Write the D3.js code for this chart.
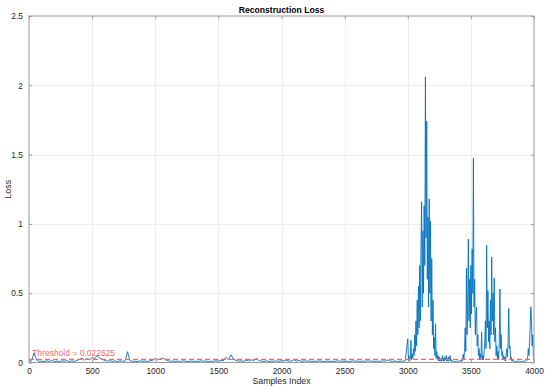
<!DOCTYPE html>
<html>
<head>
<meta charset="utf-8">
<script src="https://cdn.jsdelivr.net/npm/d3@7"></script>
<style>
  html, body { margin: 0; padding: 0; background: #fff; }
  svg { display: block; font-family: "Liberation Sans", Arial, sans-serif; }
</style>
</head>
<body>
<svg id="chart" width="550" height="389"></svg>
<script>
// ---- data ----
const title = "Reconstruction Loss";
const xLabel = "Samples Index";
const yLabel = "Loss";
const xTicks = [0, 500, 1000, 1500, 2000, 2500, 3000, 3500, 4000];
const yTicks = [0, 0.5, 1, 1.5, 2, 2.5];
const threshold = 0.022525;

// normal-operation segment: samples 0..2980, one reading every 20 samples
const baseStart = 0, baseStep = 20;
const baseLoss = [
  0.005,0.012,0.070,0.020,0.008,0.010,0.006,0.012,0.008,0.015,
  0.007,0.010,0.006,0.012,0.009,0.014,0.007,0.011,0.008,0.016,
  0.022,0.030,0.018,0.026,0.020,0.035,0.028,0.050,0.030,0.022,
  0.015,0.010,0.013,0.008,0.011,0.007,0.012,0.009,0.010,0.078,
  0.012,0.008,0.010,0.006,0.012,0.009,0.011,0.007,0.013,0.016,
  0.030,0.018,0.025,0.033,0.020,0.012,0.009,0.011,0.007,0.010,
  0.008,0.012,0.009,0.006,0.011,0.008,0.010,0.007,0.012,0.009,
  0.011,0.006,0.010,0.008,0.013,0.009,0.015,0.012,0.038,0.020,
  0.055,0.025,0.015,0.010,0.012,0.008,0.018,0.010,0.020,0.012,
  0.030,0.015,0.010,0.008,0.012,0.007,0.010,0.009,0.012,0.008,
  0.015,0.010,0.018,0.009,0.012,0.020,0.010,0.015,0.008,0.012,
  0.009,0.011,0.007,0.010,0.008,0.012,0.009,0.006,0.011,0.008,
  0.010,0.007,0.012,0.009,0.011,0.008,0.010,0.006,0.012,0.009,
  0.011,0.007,0.010,0.008,0.013,0.009,0.011,0.007,0.010,0.008,
  0.012,0.009,0.018,0.010,0.008,0.011,0.007,0.010,0.009,0.012
];

// anomaly segment: samples 3000..4000, one reading every 5 samples
const burstStart = 3000, burstStep = 5;
const burstLoss = [
  0.17,0.02,0.05,0.01,0.03,0.16,0.02,0.06,0.03,0.10,
  0.05,0.20,0.08,0.30,0.12,0.45,0.20,0.55,0.25,0.70,
  0.30,0.85,1.16,0.40,0.95,0.50,1.13,0.70,2.06,0.90,
  1.74,0.60,1.05,0.40,1.18,0.50,1.02,0.30,0.75,0.20,
  0.45,0.10,0.18,0.05,0.28,0.03,0.08,0.02,0.05,0.01,
  0.04,0.01,0.03,0.008,0.02,0.05,0.01,0.03,0.01,0.04,
  0.02,0.05,0.01,0.03,0.008,0.04,0.015,0.05,0.01,0.02,
  0.008,0.012,0.006,0.010,0.005,0.009,0.006,0.011,0.007,0.010,
  0.008,0.012,0.006,0.015,0.010,0.020,0.008,0.030,0.060,0.020,
  0.10,0.25,0.08,0.68,0.20,0.45,0.89,0.30,0.60,0.25,
  0.70,0.35,0.82,0.50,1.475,0.40,0.60,0.20,0.35,0.40,
  0.12,0.20,0.05,0.10,0.02,0.06,0.03,0.22,0.02,0.05,
  0.02,0.08,0.15,0.30,0.10,0.845,0.25,0.52,0.15,0.30,
  0.10,0.45,0.20,0.76,0.30,0.50,0.20,0.61,0.15,0.25,
  0.05,0.12,0.03,0.08,0.02,0.15,0.53,0.10,0.20,0.05,
  0.08,0.02,0.05,0.015,0.04,0.01,0.06,0.10,0.04,0.15,
  0.39,0.10,0.12,0.03,0.04,0.01,0.02,0.008,0.012,0.006,
  0.010,0.005,0.008,0.012,0.006,0.010,0.007,0.009,0.005,0.008,
  0.006,0.010,0.007,0.012,0.008,0.010,0.006,0.009,0.012,0.020,
  0.04,0.10,0.05,0.15,0.26,0.40,0.30,0.12,0.20,0.05,
  0.02
];

// ---- build series ----
const series = baseLoss.map((v, i) => ({ x: baseStart + i * baseStep, y: v }))
  .concat(burstLoss.map((v, i) => ({ x: burstStart + i * burstStep, y: v })));

// ---- layout ----
const W = 550, H = 389;
const m = { left: 29, right: 16, top: 16, bottom: 26.5 };
const svg = d3.select("#chart");

const x = d3.scaleLinear().domain([0, 4000]).range([m.left, W - m.right]);
const y = d3.scaleLinear().domain([0, 2.5]).range([H - m.bottom, m.top]);

const x0 = m.left, x1 = W - m.right, y0 = H - m.bottom, y1 = m.top;

// grid
const grid = svg.append("g").attr("stroke", "#ededed").attr("stroke-width", 1);
xTicks.slice(1, -1).forEach(t => grid.append("line")
  .attr("x1", Math.round(x(t)) + 0.5).attr("x2", Math.round(x(t)) + 0.5)
  .attr("y1", y1).attr("y2", y0));
yTicks.slice(1, -1).forEach(t => grid.append("line")
  .attr("y1", Math.round(y(t)) + 0.5).attr("y2", Math.round(y(t)) + 0.5)
  .attr("x1", x0).attr("x2", x1));

// data line
const clipId = "plotclip";
svg.append("clipPath").attr("id", clipId).append("rect")
  .attr("x", x0).attr("y", y1).attr("width", x1 - x0).attr("height", y0 - y1);

svg.append("path")
  .datum(series)
  .attr("clip-path", `url(#${clipId})`)
  .attr("fill", "none")
  .attr("stroke", "#0072BD")
  .attr("stroke-width", 0.9)
  .attr("stroke-linejoin", "miter")
  .attr("d", d3.line().x(d => x(d.x)).y(d => y(d.y)));

// threshold
svg.append("line")
  .attr("x1", x0).attr("x2", x1)
  .attr("y1", y(threshold)).attr("y2", y(threshold))
  .attr("stroke", "#f06a6a").attr("stroke-width", 1.2)
  .attr("stroke-dasharray", "5,3");

svg.append("text")
  .attr("x", x(25)).attr("y", 356)
  .attr("font-size", 8.5).attr("fill", "#f06a6a")
  .text(`Threshold = ${threshold}`);

// axes (MATLAB-style box with inward ticks)
const axisCol = "#9a9a9a";
svg.append("rect").attr("x", x0).attr("y", y1).attr("width", x1 - x0).attr("height", y0 - y1)
  .attr("fill", "none").attr("stroke", axisCol).attr("stroke-width", 1);

const xAxisB = d3.axisBottom(x).tickValues(xTicks).tickSize(-3).tickPadding(6).tickFormat(d3.format("d"));
const xAxisT = d3.axisTop(x).tickValues(xTicks).tickSize(-3).tickFormat("");
const yAxisL = d3.axisLeft(y).tickValues(yTicks).tickSize(-3).tickPadding(6).tickFormat(d => String(d));
const yAxisR = d3.axisRight(y).tickValues(yTicks).tickSize(-3).tickFormat("");

function styleAxis(g) {
  g.select(".domain").remove();
  g.selectAll(".tick line").attr("stroke", axisCol);
  g.selectAll(".tick text").attr("fill", "#262626").attr("font-size", 8.4)
    .attr("font-family", "'Liberation Sans', Arial, sans-serif");
}
svg.append("g").attr("transform", `translate(0,${y0})`).call(xAxisB).call(styleAxis);
svg.append("g").attr("transform", `translate(0,${y1})`).call(xAxisT).call(styleAxis);
svg.append("g").attr("transform", `translate(${x0},0)`).call(yAxisL).call(styleAxis);
svg.append("g").attr("transform", `translate(${x1},0)`).call(yAxisR).call(styleAxis);

// labels
svg.append("text")
  .attr("x", (x0 + x1) / 2).attr("y", 13)
  .attr("text-anchor", "middle").attr("font-weight", "bold").attr("font-size", 8.6)
  .attr("fill", "#000").text(title);

svg.append("text")
  .attr("x", (x0 + x1) / 2).attr("y", 384)
  .attr("text-anchor", "middle").attr("font-size", 8.8)
  .attr("fill", "#262626").text(xLabel);

svg.append("text")
  .attr("transform", `translate(11,${(y0 + y1) / 2}) rotate(-90)`)
  .attr("text-anchor", "middle").attr("font-size", 8.8)
  .attr("fill", "#262626").text(yLabel);
</script>
</body>
</html>
